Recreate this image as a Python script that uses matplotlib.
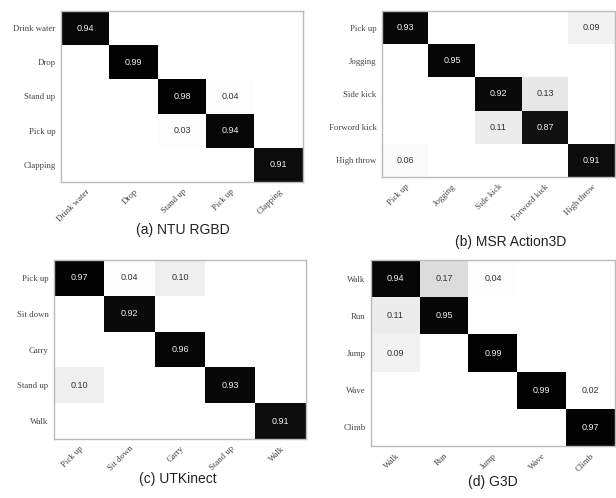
import numpy as np
import matplotlib
matplotlib.use("Agg")
import matplotlib.pyplot as plt
from matplotlib.colors import LinearSegmentedColormap

W, H = 616, 498

labels_a = ["Drink water", "Drop", "Stand up", "Pick up", "Clapping"]
values_a = [[0.94, 0, 0, 0, 0],
            [0, 0.99, 0, 0, 0],
            [0, 0, 0.98, 0.04, 0],
            [0, 0, 0.03, 0.94, 0],
            [0, 0, 0, 0, 0.91]]

labels_b = ["Pick up", "Jogging", "Side kick", "Forword kick", "High throw"]
values_b = [[0.93, 0, 0, 0, 0.09],
            [0, 0.95, 0, 0, 0],
            [0, 0, 0.92, 0.13, 0],
            [0, 0, 0.11, 0.87, 0],
            [0.06, 0, 0, 0, 0.91]]

labels_c = ["Pick up", "Sit down", "Carry", "Stand up", "Walk"]
values_c = [[0.97, 0.04, 0.10, 0, 0],
            [0, 0.92, 0, 0, 0],
            [0, 0, 0.96, 0, 0],
            [0.10, 0, 0, 0.93, 0],
            [0, 0, 0, 0, 0.91]]

labels_d = ["Walk", "Run", "Jump", "Wave", "Climb"]
values_d = [[0.94, 0.17, 0.04, 0, 0],
            [0.11, 0.95, 0, 0, 0],
            [0.09, 0, 0.99, 0, 0],
            [0, 0, 0, 0.99, 0.02],
            [0, 0, 0, 0, 0.97]]

titles = ["(a) NTU RGBD", "(b) MSR Action3D", "(c) UTKinect", "(d) G3D"]

# pixel boxes: left, top, right, bottom ; title (cx, cy)
boxes = [(61, 11, 303, 182), (382, 11, 615, 177),
         (54, 260, 306, 439), (371, 260, 615, 446)]
title_pos = [(183, 230), (511, 242), (178, 479), (493, 482)]

cmap = LinearSegmentedColormap.from_list(
    "cm", [(0.0, "#ffffff"), (0.05, "#fdfdfd"), (0.10, "#efefef"),
           (0.17, "#dcdcdc"), (0.5, "#888888"), (0.85, "#141414"),
           (1.0, "#000000")])

fig = plt.figure(figsize=(W / 100, H / 100), dpi=100)

panels = [(labels_a, values_a), (labels_b, values_b),
          (labels_c, values_c), (labels_d, values_d)]

for (labs, vals), (l, t, r, b), title, (tx, ty) in zip(panels, boxes, titles, title_pos):
    ax = fig.add_axes([l / W, 1 - b / H, (r - l) / W, (b - t) / H])
    m = np.array(vals)
    ax.imshow(m, cmap=cmap, vmin=0, vmax=1, aspect="auto", interpolation="nearest")
    n = len(labs)
    for i in range(n):
        for j in range(n):
            v = m[i, j]
            if v > 0:
                ax.text(j, i, f"{v:.2f}", ha="center", va="center",
                        fontsize=6.5, family="Liberation Sans",
                        color="#eeeeee" if v > 0.5 else "#333333")
    ax.set_xticks(range(n))
    ax.set_yticks(range(n))
    ax.set_xticklabels(labs, rotation=45, ha="right", rotation_mode="anchor",
                       family="Liberation Serif", fontsize=6.3, color="#444444")
    ax.set_yticklabels(labs, family="Liberation Serif", fontsize=6.3, color="#444444")
    ax.tick_params(length=0, pad=4)
    for s in ax.spines.values():
        s.set_color("#bbbbbb")
        s.set_linewidth(1.0)
    fig.text(tx / W, 1 - ty / H, title, ha="center", va="center",
             fontsize=10, family="Liberation Sans", color="#222222")

fig.savefig("out.png", dpi=100)
